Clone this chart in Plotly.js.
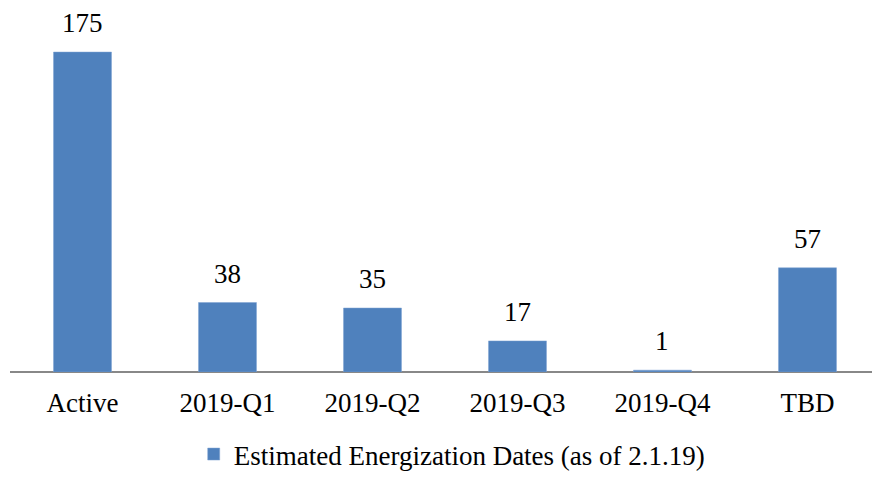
<!DOCTYPE html>
<html>
<head>
<meta charset="utf-8">
<script src="https://cdn.plot.ly/plotly-3.0.1.min.js"></script>
<style>html,body{margin:0;padding:0;background:#fff;}#chart{width:872px;height:479px;}</style>
</head>
<body>
<div id="chart"></div>
<script>
const categories = ["Active", "2019-Q1", "2019-Q2", "2019-Q3", "2019-Q4", "TBD"];
const values = [175, 38, 35, 17, 1, 57];
const seriesName = "Estimated Energization Dates (as of 2.1.19)";

const FONT = '"Liberation Serif", "Times New Roman", serif';

const trace = {
  type: "bar",
  x: categories,
  y: values,
  name: seriesName,
  marker: { color: "#4F81BD", line: { color: "#7FA3D3", width: 0.5 } },
  hoverinfo: "x+y",
  showlegend: true
};

const annotations = categories.map((c, i) => ({
  x: c, y: values[i], xref: "x", yref: "y",
  text: String(values[i]), showarrow: false,
  yanchor: "bottom", yshift: 12,
  font: { family: FONT, size: 27, color: "#000" }
}));

const layout = {
  width: 872, height: 479,
  margin: { l: 10, r: 0, t: 10, b: 107, autoexpand: false },
  paper_bgcolor: "#fff", plot_bgcolor: "#fff",
  font: { family: FONT, size: 27, color: "#000" },
  bargap: 0.6,
  xaxis: {
    type: "category",
    range: [-0.5, 5.445],
    automargin: false,
    showgrid: false, zeroline: false,
    showline: false,
    ticks: "", ticklabelstandoff: 12,
    tickfont: { family: FONT, size: 27, color: "#000" }
  },
  yaxis: {
    range: [0, 198],
    automargin: false,
    showgrid: false, showticklabels: false, ticks: "",
    zeroline: true, zerolinecolor: "#888", zerolinewidth: 1.5,
    showline: false
  },
  showlegend: true,
  legend: {
    orientation: "h", x: 0.513, xanchor: "center",
    yref: "container", y: 0.0, yanchor: "bottom",
    borderwidth: 0,
    font: { family: FONT, size: 27, color: "#000" },
    itemwidth: 30
  },
  annotations: annotations
};

Plotly.newPlot("chart", [trace], layout, { displayModeBar: false, staticPlot: true });
</script>
</body>
</html>
